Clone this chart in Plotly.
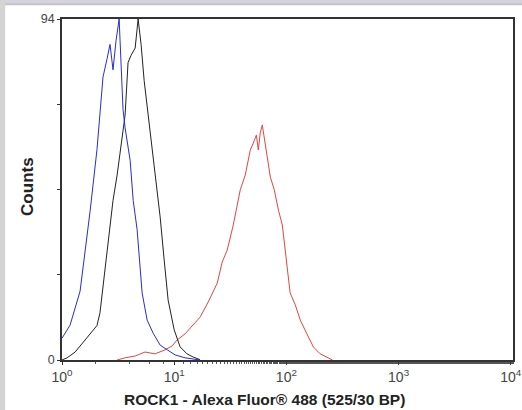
import plotly.graph_objects as go

# Blue (isotype/unstained) histogram
blue_x = [1.0, 1.18, 1.45, 1.78, 2.05, 2.32, 2.52, 2.68, 2.85, 3.03, 3.23, 3.50, 3.65,
          4.05, 4.31, 4.67, 5.18, 5.74, 6.49, 7.5, 8.67, 10.2, 12.5, 15.4, 17.0]
blue_y = [6, 9.6, 19, 41, 58, 78, 83, 87, 80, 88, 94, 69, 64,
          55, 44, 36, 18.5, 11, 7.4, 4.1, 2.8, 1.4, 0.6, 0.1, 0]

# Black histogram
black_x = [1.0, 1.11, 1.31, 1.60, 2.05, 2.18, 2.52, 2.85, 3.10, 3.43, 3.65, 3.88, 4.13,
           4.49, 4.77, 5.07, 5.4, 5.74, 6.22, 6.75, 7.5, 8.14, 8.83, 10.0, 11.3, 13.0,
           14.8, 17.0]
black_y = [0, 0.6, 2.2, 5.5, 9.5, 13, 30, 44, 51, 61.5, 67.5, 82, 84,
           86, 94, 87, 77, 70, 60.6, 50, 39.4, 27.6, 16.5, 8.3, 3.6, 1.7,
           0.8, 0.1]

# Red (ROCK1) histogram
red_x = [3.1, 3.65, 4.49, 5.5, 6.75, 8.3, 9.6, 10.6, 12.5, 14.5, 17.1, 20.1, 24.2,
         26.8, 29.7, 33.6, 38.8, 43, 47.7, 50.7, 54, 56.2, 58.5, 61, 65, 69, 72, 78,
         85, 92, 100, 108, 120, 133, 154, 174, 200, 232, 258]
red_y = [0, 0.6, 1.1, 2.2, 1.7, 2.8, 3.9, 5.5, 7.2, 9.4, 11.9, 16, 21.2,
         27, 30.3, 37.2, 46.9, 51, 57.9, 59.8, 62, 57.9, 62.6, 64.8, 59.3, 53.8, 50.4, 46.9,
         41.3, 37.2, 27.6, 18.5, 15.2, 11, 6.9, 3.6, 1.7, 0.6, 0]

x_tickvals = [1, 10, 100, 1000, 10000]
x_ticktext = ["10<sup>0</sup>", "10<sup>1</sup>", "10<sup>2</sup>", "10<sup>3</sup>", "10<sup>4</sup>"]
y_tickvals = [0, 23.5, 47, 70.5, 94]
y_ticktext = ["0", "", "", "", "94"]
x_title = "<b>ROCK1 - Alexa Fluor® 488 (525/30 BP)</b>"
y_title = "<b>Counts</b>"

fig = go.Figure()
fig.add_trace(go.Scatter(x=red_x, y=red_y, mode="lines",
                         line=dict(color="#e44444", width=1), showlegend=False))
fig.add_trace(go.Scatter(x=black_x, y=black_y, mode="lines",
                         line=dict(color="#222222", width=1), showlegend=False))
fig.add_trace(go.Scatter(x=blue_x, y=blue_y, mode="lines",
                         line=dict(color="#2a2ad8", width=1), showlegend=False))

fig.update_layout(
    width=522, height=410,
    margin=dict(l=62, r=9, t=19, b=50),
    paper_bgcolor="white", plot_bgcolor="white",
    font=dict(family="Liberation Sans, Arial, sans-serif", color="#333333"),
    xaxis=dict(type="log", range=[0, 4.02], tickvals=x_tickvals, ticktext=x_ticktext,
               ticks="outside", ticklen=3, tickcolor="#333", showgrid=False, automargin=False,
               showline=True, linecolor="#333", linewidth=1.5, mirror=True, zeroline=False,
               tickfont=dict(size=14, color="#444"),
               minor=dict(ticks="outside", ticklen=2, tickcolor="#555", showgrid=False)),
    yaxis=dict(range=[0, 94], tickvals=y_tickvals, ticktext=y_ticktext,
               ticks="outside", ticklen=3, tickcolor="#333", showgrid=False, automargin=False,
               showline=True, linecolor="#333", linewidth=1.5, mirror=True, zeroline=False,
               tickfont=dict(size=12.5, color="#444")),
    annotations=[
        dict(text=x_title, xref="paper", yref="paper", x=0.45, y=-0.117,
             xanchor="center", yanchor="middle", showarrow=False,
             font=dict(size=15.5, color="#222")),
        dict(text=y_title, xref="paper", yref="paper", x=-0.078, y=0.51,
             xanchor="center", yanchor="middle", showarrow=False, textangle=-90,
             font=dict(size=17, color="#222")),
    ],
    shapes=[
        dict(type="rect", xref="paper", yref="paper", x0=-0.2, x1=1.1, y0=1.044, y1=1.08,
             fillcolor="#d6d2de", line=dict(width=0), layer="above"),
        dict(type="rect", xref="paper", yref="paper", x0=-0.2, x1=1.1, y0=1.040, y1=1.046,
             fillcolor="#c4c4c4", line=dict(width=0), layer="above"),
        dict(type="rect", xref="paper", yref="paper", x0=-0.2, x1=-0.126, y0=-0.3, y1=1.08,
             fillcolor="#d4d4d4", line=dict(width=0), layer="above"),
    ],
)

fig.write_html("out.html", config={"displayModeBar": False},
               post_script="document.body.style.margin='0';")
